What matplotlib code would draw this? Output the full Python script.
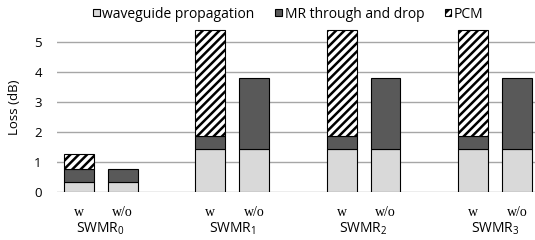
import matplotlib
matplotlib.use("Agg")
import matplotlib.pyplot as plt
from matplotlib.patches import Patch

plt.rcParams['font.family'] = ['Open Sans', 'DejaVu Sans']
plt.rcParams['hatch.linewidth'] = 1.8
plt.rcParams['mathtext.fontset'] = 'custom'
plt.rcParams['mathtext.rm'] = 'Open Sans'

groups = ['SWMR$_{0}$', 'SWMR$_{1}$', 'SWMR$_{2}$', 'SWMR$_{3}$']
bar_labels = ['w', 'w/o']
waveguide = [0.32, 0.32, 1.42, 1.42, 1.42, 1.42, 1.42, 1.42]
mr_through_drop = [0.44, 0.44, 0.43, 2.38, 0.43, 2.38, 0.43, 2.38]
pcm = [0.50, 0.0, 3.55, 0.0, 3.55, 0.0, 3.55, 0.0]
yticks = [0, 1, 2, 3, 4, 5]

fig = plt.figure(figsize=(5.35, 2.4), dpi=100)
ax = fig.add_axes([57/535, 1 - 192/240, 1 - 57/535, (192 - 28)/240])

pos = []
for g in range(len(groups)):
    for j in range(len(bar_labels)):
        pos.append(g * 3 + j)

w = 0.68
light = '#d9d9d9'
dark = '#595959'
ax.bar(pos, waveguide, width=w, color=light, edgecolor='black', linewidth=0.8, zorder=3)
bottom2 = waveguide
ax.bar(pos, mr_through_drop, width=w, bottom=bottom2, color=dark, edgecolor='black', linewidth=0.8, zorder=3)
bottom3 = [a + b for a, b in zip(waveguide, mr_through_drop)]
pcm_pos = [p for p, v in zip(pos, pcm) if v > 0]
pcm_val = [v for v in pcm if v > 0]
pcm_bot = [b for b, v in zip(bottom3, pcm) if v > 0]
ax.bar(pcm_pos, pcm_val, width=w, bottom=pcm_bot, color='white', edgecolor='black',
       hatch='////', linewidth=0.8, zorder=3)

ax.set_xlim(-0.5, 10.41)
ax.set_ylim(0, 5.45)
ax.set_yticks(yticks)
ax.set_yticklabels([str(t) for t in yticks], fontsize=9.5)
ax.yaxis.grid(True, color='#a6a6a6', linewidth=1.0, zorder=0)
ax.set_axisbelow(True)
for s in ax.spines.values():
    s.set_visible(False)
ax.tick_params(axis='y', length=0, pad=11)
ax.set_xticks([])

fig.text(14.5/535, 1 - 107/240, 'Loss (dB)', rotation=90, ha='center', va='center', fontsize=9.5)

for p, lab in zip(pos, bar_labels * len(groups)):
    ax.text(p, (192 - 213) / 164, lab, transform=ax.get_xaxis_transform(),
            ha='center', va='center', fontsize=10, family='Liberation Serif')

for g, name in enumerate(groups):
    ax.text(g * 3 + 0.5, (192 - 229) / 164, name, transform=ax.get_xaxis_transform(),
            ha='center', va='center', fontsize=10)

handles = [Patch(facecolor=light, edgecolor='black', linewidth=0.8, label='waveguide propagation'),
           Patch(facecolor=dark, edgecolor='black', linewidth=0.8, label='MR through and drop'),
           Patch(facecolor='white', edgecolor='black', hatch='////', linewidth=0.8, label='PCM')]
fig.legend(handles=handles, loc='center', bbox_to_anchor=(288.5/535, 1 - 14/240), ncol=3,
           frameon=False, fontsize=10, handlelength=0.45, handleheight=0.45,
           handletextpad=0.2, columnspacing=1.5, borderpad=0)

fig.savefig('out.png', dpi=100)
